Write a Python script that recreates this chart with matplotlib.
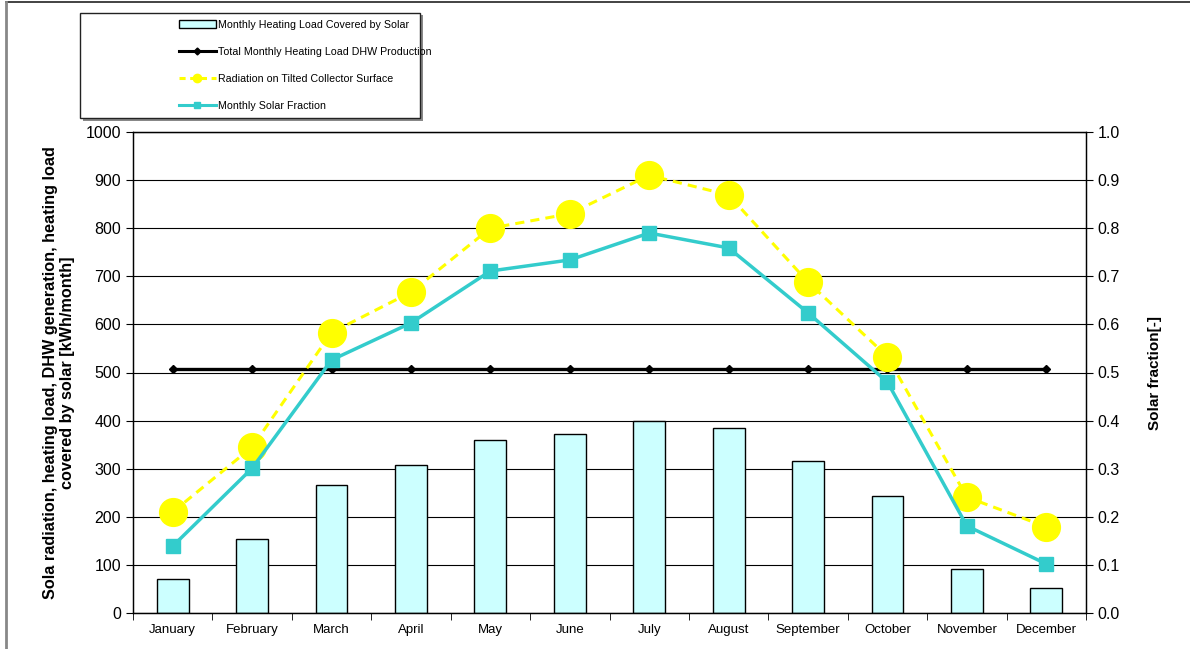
import matplotlib.pyplot as plt
from matplotlib.patches import Rectangle, Patch
from matplotlib.lines import Line2D

plt.rcParams['font.family'] = ['Liberation Sans', 'DejaVu Sans']

months = ['January', 'February', 'March', 'April', 'May', 'June', 'July',
          'August', 'September', 'October', 'November', 'December']
covered_by_solar = [71, 153, 266, 307, 360, 372, 399, 385, 316, 243, 91, 52]
total_load = [507, 507, 507, 507, 507, 507, 507, 507, 507, 507, 507, 507]
radiation = [210, 345, 583, 667, 800, 830, 910, 869, 688, 533, 241, 179]
solar_fraction = [0.139, 0.301, 0.526, 0.603, 0.711, 0.734, 0.790, 0.759, 0.624, 0.480, 0.181, 0.102]

fig = plt.figure(figsize=(11.9, 6.49), dpi=100)
ax = fig.add_axes([133 / 1190, 1 - 613 / 649, 953 / 1190, 481 / 649])
ax2 = ax.twinx()

x = list(range(len(months)))

# grid and bars
ax.set_axisbelow(True)
ax.yaxis.grid(True, color='black', linewidth=0.8)
ax.bar(x, covered_by_solar, width=0.4, color='#ccffff', edgecolor='black',
       linewidth=1.0, zorder=2)
ax.plot(x, total_load, color='black', linewidth=2.4, marker='D', markersize=4.5,
        zorder=3)
ax.plot(x, radiation, color='#ffff00', linewidth=2.2, linestyle=(0, (3, 2)),
        marker='o', markersize=20, zorder=4)
ax.set_ylim(0, 1000)
ax.set_xlim(-0.5, 11.5)
ax.set_yticks(range(0, 1001, 100))
ax.set_xticks(x)
ax.set_xticklabels(months, fontsize=9.5)
ax.set_xticks([i - 0.5 for i in range(13)], minor=True)
ax.tick_params(axis='x', which='major', length=0, pad=8)
ax.tick_params(axis='x', which='minor', length=5, direction='out')
ax.tick_params(axis='y', labelsize=11.5, length=5, direction='out')
ax.set_ylabel('Sola radiation, heating load, DHW generation, heating load\n'
              'covered by solar [kWh/month]', fontsize=11.7, fontweight='bold',
              linespacing=1.1, labelpad=8)

ax2.plot(x, solar_fraction, color='#33cccc', linewidth=2.5, marker='s',
         markersize=10, zorder=5)
ax2.set_ylim(0, 1.0)
ax2.set_yticks([i / 10 for i in range(11)])
ax2.set_yticklabels(['%.1f' % (i / 10) for i in range(11)])
ax2.tick_params(axis='y', labelsize=11.5, length=5, direction='out')
ax2.set_ylabel('Solar fraction[-]', fontsize=11, fontweight='bold', labelpad=20)

for a in (ax, ax2):
    for s in a.spines.values():
        s.set_color('black')
        s.set_linewidth(0.9)

# legend with framed box and shadow
handles = [
    Patch(facecolor='#ccffff', edgecolor='black', linewidth=1.0),
    Line2D([], [], color='black', linewidth=2.2, marker='D', markersize=3.5),
    Line2D([], [], color='#ffff00', linewidth=2.2, linestyle=(0, (2, 1.5)),
           marker='o', markersize=6),
    Line2D([], [], color='#33cccc', linewidth=2.2, marker='s', markersize=5),
]
labels = ['Monthly Heating Load Covered by Solar',
          'Total Monthly Heating Load DHW Production',
          'Radiation on Tilted Collector Surface',
          'Monthly Solar Fraction']
fig.patches.append(Rectangle((83 / 1190, 1 - 121 / 649), 340 / 1190, 106 / 649,
                             transform=fig.transFigure, facecolor='#888888',
                             edgecolor='none', zorder=0))
fig.patches.append(Rectangle((80 / 1190, 1 - 118 / 649), 340 / 1190, 105 / 649,
                             transform=fig.transFigure, facecolor='white',
                             edgecolor='#222222', linewidth=1.0, zorder=1))
fig.legend(handles, labels, loc='upper left',
           bbox_to_anchor=(169 / 1190, 1 - 10 / 649), frameon=False,
           fontsize=7.7, handlelength=3.5, handletextpad=0.2,
           labelspacing=1.6)

# figure border
fig.add_artist(Line2D([6 / 1190, 1], [1 - 2 / 649, 1 - 2 / 649],
                      transform=fig.transFigure, color='#222222', linewidth=1.2))
fig.add_artist(Line2D([6 / 1190, 6 / 1190], [0, 1 - 2 / 649],
                      transform=fig.transFigure, color='#888888', linewidth=2))

fig.savefig('out.png', dpi=100)
